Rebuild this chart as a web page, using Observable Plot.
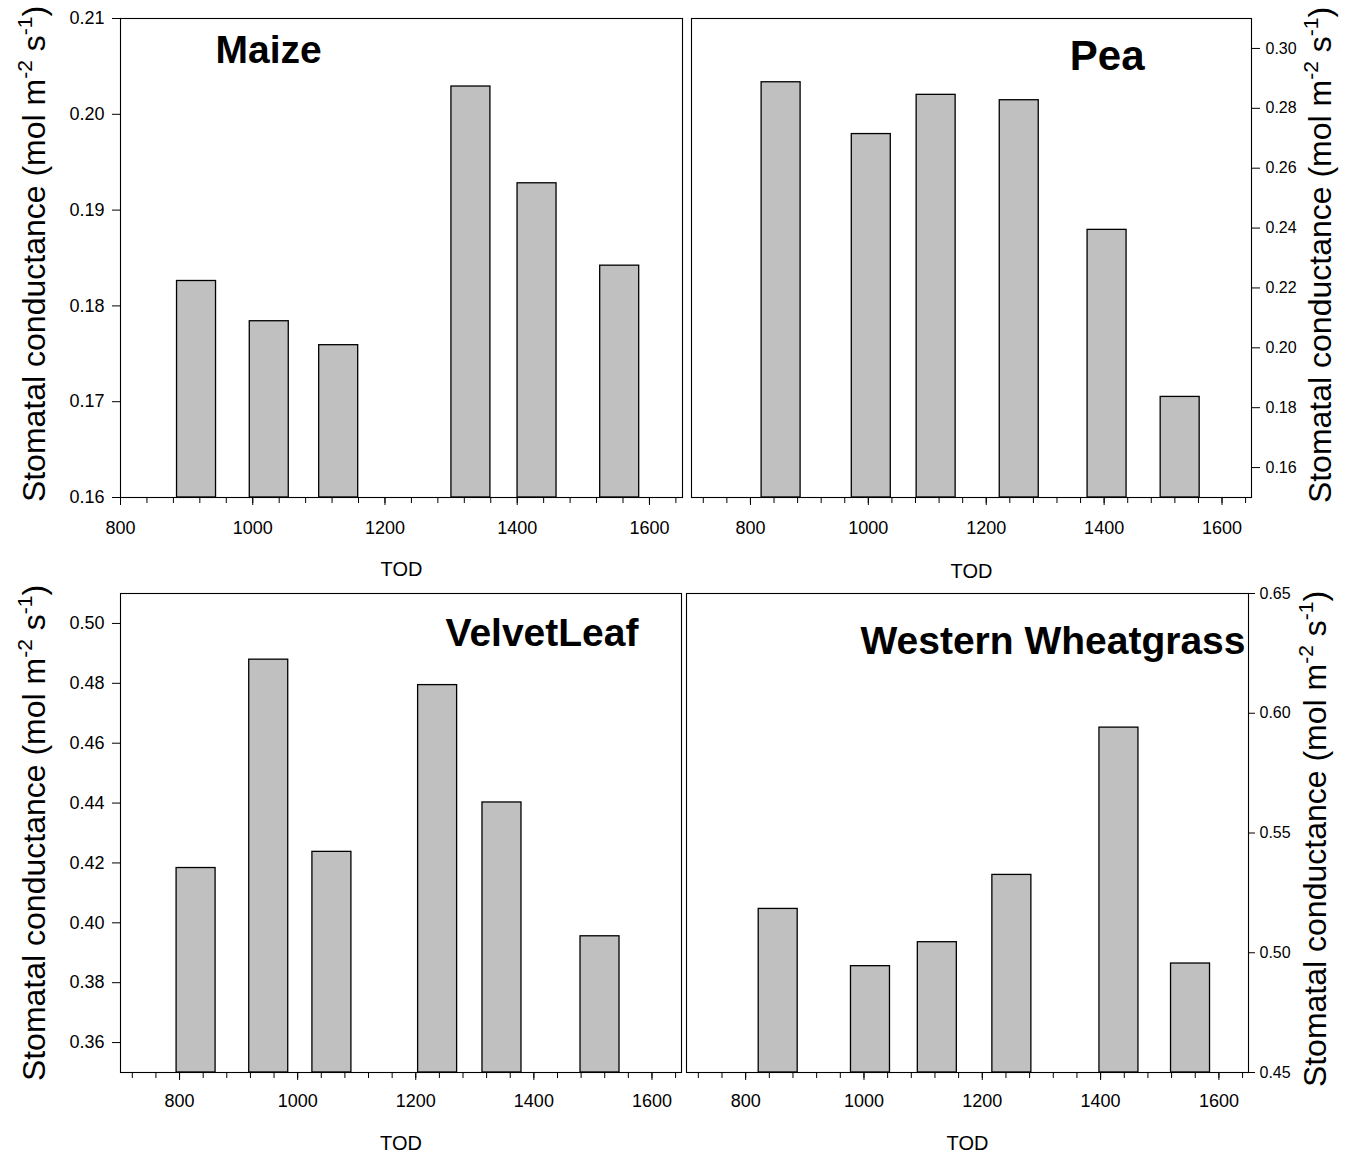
<!DOCTYPE html>
<html><head><meta charset="utf-8">
<script src="https://cdn.jsdelivr.net/npm/d3@7"></script>
<script src="https://cdn.jsdelivr.net/npm/@observablehq/plot@0.6"></script>
<style>
html,body{margin:0;padding:0;background:#fff;}
#chart{position:relative;width:1347px;height:1155px;background:#fff;overflow:hidden;}
#chart svg{position:absolute;overflow:visible;}
</style></head><body><div id="chart"></div>
<script>
// ---- data ----
const maizeTOD = [915, 1025, 1130, 1330, 1430, 1555];
const maizeGs  = [0.1826, 0.1784, 0.1759, 0.2029, 0.1928, 0.1842];
const peaTOD   = [852, 1005, 1115, 1256, 1405, 1529];
const peaGs    = [0.2887, 0.2714, 0.2845, 0.2827, 0.2394, 0.1836];
const velvetTOD = [828, 951, 1058, 1237, 1346, 1512];
const velvetGs  = [0.4183, 0.4879, 0.4237, 0.4794, 0.4402, 0.3955];
const wheatTOD = [855, 1011, 1124, 1250, 1431, 1552];
const wheatGs  = [0.5183, 0.4944, 0.5044, 0.5325, 0.5940, 0.4955];

const xMajorTicks = [800, 1000, 1200, 1400, 1600];
const xMinorTicks = [720, 760, 800, 840, 880, 920, 960, 1000, 1040, 1080, 1120, 1160, 1200, 1240, 1280, 1320, 1360, 1400, 1440, 1480, 1520, 1560, 1600, 1640];
const maizeYTicks = [0.16, 0.17, 0.18, 0.19, 0.20, 0.21];
const peaYTicks = [0.16, 0.18, 0.20, 0.22, 0.24, 0.26, 0.28, 0.30];
const velvetYTicks = [0.36, 0.38, 0.40, 0.42, 0.44, 0.46, 0.48, 0.50];
const wheatYTicks = [0.45, 0.50, 0.55, 0.60, 0.65];

const FONT = "Arial, 'Liberation Sans', sans-serif";

const panels = [
  {name: "Maize", tod: maizeTOD, gs: maizeGs, left: 0, top: 0, width: 688, height: 590,
   m: [120, 6, 18, 93], xDomain: [800, 1650], yDomain: [0.16, 0.21], yTicks: maizeYTicks,
   yAnchor: "left", yTickSize: 8, yPad: 8, yFont: 18, xPad: 16, todDy: 64,
   tAnchor: "top-left", tTA: "start", tdx: 95, tdy: 17, tfs: 39, ylx: 45, yly: 254},
  {name: "Pea", tod: peaTOD, gs: peaGs, left: 688, top: 0, width: 659, height: 590,
   m: [3, 96, 18, 93], xDomain: [700, 1650], yDomain: [0.15, 0.31], yTicks: peaYTicks,
   yAnchor: "right", yTickSize: 8, yPad: 6, yFont: 16, xPad: 16, todDy: 66,
   tAnchor: "top-right", tTA: "end", tdx: -107, tdy: 22, tfs: 42, ylx: 643, yly: 255},
  {name: "VelvetLeaf", tod: velvetTOD, gs: velvetGs, left: 0, top: 580, width: 684, height: 575,
   m: [120, 3, 13, 83], xDomain: [700, 1650], yDomain: [0.35, 0.51], yTicks: velvetYTicks,
   yAnchor: "left", yTickSize: 8, yPad: 8, yFont: 18, xPad: 14, todDy: 63,
   tAnchor: "top-right", tTA: "end", tdx: -43, tdy: 25, tfs: 39, ylx: 45, yly: 253},
  {name: "Western Wheatgrass", tod: wheatTOD, gs: wheatGs, left: 684, top: 580, width: 663, height: 575,
   m: [2, 99, 13, 83], xDomain: [700, 1650], yDomain: [0.45, 0.65], yTicks: wheatYTicks,
   yAnchor: "right", yTickSize: 6, yPad: 5, yFont: 16, xPad: 14, todDy: 63,
   tAnchor: "top-right", tTA: "end", tdx: -3, tdy: 33, tfs: 39, ylx: 642, yly: 259}
];

const chart = document.getElementById("chart");

for (const p of panels) {
  const rows = p.tod.map((t, i) => ({t, v: p.gs[i]}));
  const ymin = p.yDomain[0];
  const minor = xMinorTicks.filter(d => d >= p.xDomain[0] && d <= p.xDomain[1]);
  const svg = Plot.plot({
    width: p.width, height: p.height,
    marginLeft: p.m[0], marginRight: p.m[1], marginTop: p.m[2], marginBottom: p.m[3],
    style: {fontFamily: FONT, fontSize: "17px", background: "transparent", overflow: "visible", color: "black"},
    x: {domain: p.xDomain},
    y: {domain: p.yDomain},
    marks: [
      Plot.rect(rows, {x1: "t", x2: "t", y1: () => ymin, y2: "v", insetLeft: -19.5, insetRight: -19.5,
        fill: "#c0c0c0", stroke: "black", strokeWidth: 1.3}),
      Plot.frame({stroke: "black", strokeWidth: 1.1}),
      Plot.axisX(minor, {anchor: "bottom", tickSize: 6, tickFormat: () => "", label: null}),
      Plot.axisX(xMajorTicks, {anchor: "bottom", tickSize: 8, tickPadding: p.xPad, fontSize: 18,
        label: null, tickFormat: d => String(d)}),
      Plot.axisY(p.yTicks, {anchor: p.yAnchor, tickSize: p.yTickSize, tickPadding: p.yPad,
        fontSize: p.yFont, label: null, tickFormat: d3.format(".2f")}),
      Plot.text(["TOD"], {frameAnchor: "bottom", text: d => d, dy: p.todDy, lineAnchor: "top", fontSize: 20}),
      Plot.text([p.name], {frameAnchor: p.tAnchor, textAnchor: p.tTA, text: d => d, dx: p.tdx, dy: p.tdy,
        lineAnchor: "top", fontSize: p.tfs, fontWeight: "bold"})
    ]
  });
  svg.style.left = p.left + "px";
  svg.style.top = p.top + "px";
  const lab = d3.select(svg).append("text")
    .attr("transform", `translate(${p.ylx},${p.yly}) rotate(-90)`)
    .attr("text-anchor", "middle").attr("font-size", 32)
    .attr("font-family", FONT).attr("fill", "black");
  lab.append("tspan").text("Stomatal conductance (mol m");
  lab.append("tspan").attr("dy", -13).attr("font-size", 21).text("-2");
  lab.append("tspan").attr("dy", 13).text(" s");
  lab.append("tspan").attr("dy", -13).attr("font-size", 21).text("-1");
  lab.append("tspan").attr("dy", 13).text(")");
  chart.appendChild(svg);
}
</script>
</body></html>
